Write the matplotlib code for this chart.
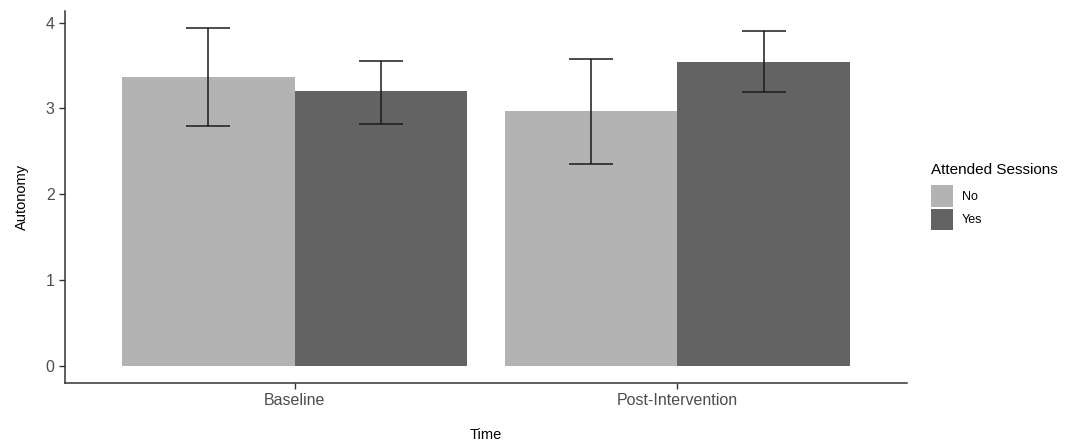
import numpy as np
import matplotlib
matplotlib.use('Agg')
import matplotlib.pyplot as plt
from matplotlib.patches import Patch

plt.rcParams['font.family'] = ['Liberation Sans', 'DejaVu Sans']

# data
times = ['Baseline', 'Post-Intervention']
groups = ['No', 'Yes']
means = {'No': [3.37, 2.97], 'Yes': [3.20, 3.54]}
lower = {'No': [2.79, 2.35], 'Yes': [2.82, 3.19]}
upper = {'No': [3.94, 3.57], 'Yes': [3.55, 3.90]}
colours = {'No': '#B3B3B3', 'Yes': '#636363'}

fig = plt.figure(figsize=(10.7, 4.48), dpi=100)
ax = fig.add_axes([0.0607, 0.1458, 0.787, 0.830])

x = np.arange(1, len(times) + 1)
w = 0.45
for i, g in enumerate(groups):
    pos = x + (i - 0.5) * w
    ax.bar(pos, means[g], width=w, color=colours[g], edgecolor='none', zorder=2)
    m = np.array(means[g])
    err = [m - np.array(lower[g]), np.array(upper[g]) - m]
    ax.errorbar(pos, m, yerr=err, fmt='none', ecolor='#1a1a1a', elinewidth=1.1,
                capsize=16, capthick=1.1, zorder=3)

ax.set_xlim(0.4, 2.6)
ax.set_ylim(-0.197, 4.137)
ax.set_xticks(x)
ax.set_xticklabels(times)
ax.set_yticks([0, 1, 2, 3, 4])

for s in ['top', 'right']:
    ax.spines[s].set_visible(False)
for s in ['left', 'bottom']:
    ax.spines[s].set_color('#333333')
    ax.spines[s].set_linewidth(1.1)
ax.tick_params(colors='#333333', labelcolor='#4D4D4D', labelsize=11.5, length=4, width=1)

ax.set_xlabel('Time', fontsize=10.5, labelpad=14)
ax.set_ylabel('Autonomy', fontsize=10.5, labelpad=12)

handles = [Patch(facecolor=colours[g], edgecolor='none', label=g) for g in groups]
leg = fig.legend(handles=handles, title='Attended Sessions', loc='upper left',
                 bbox_to_anchor=(0.8705, 0.636), frameon=False, fontsize=9,
                 title_fontsize=11, handlelength=1.76, handleheight=2.3,
                 handletextpad=0.7, labelspacing=0.12, borderpad=0,
                 borderaxespad=0)
leg._legend_box.align = 'left'
leg._legend_box.sep = 6  # gap between title and keys

fig.savefig('out.png', dpi=100)
